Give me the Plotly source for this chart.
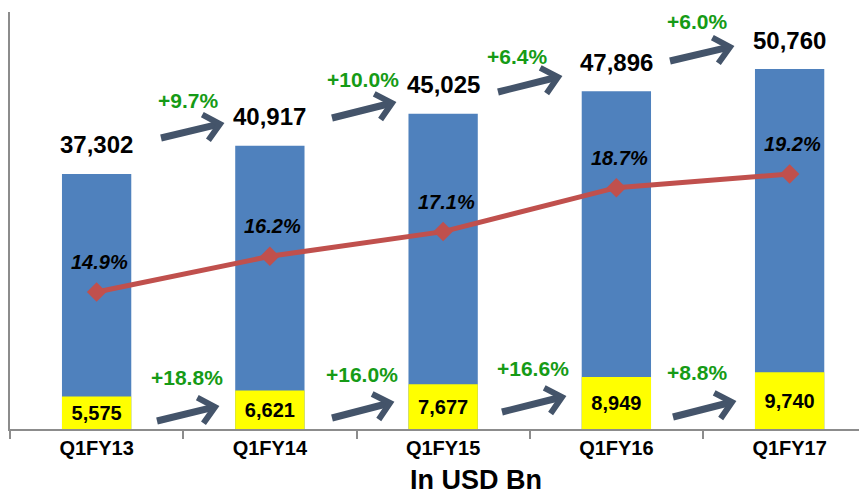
import math
import plotly.graph_objects as go

quarters = ["Q1FY13", "Q1FY14", "Q1FY15", "Q1FY16", "Q1FY17"]
total_values = [37302, 40917, 45025, 47896, 50760]
segment_values = [5575, 6621, 7677, 8949, 9740]
share_pct = [14.9, 16.2, 17.1, 18.7, 19.2]
total_growth = ["+9.7%", "+10.0%", "+6.4%", "+6.0%"]
segment_growth = ["+18.8%", "+16.0%", "+16.6%", "+8.8%"]

FONT = "Liberation Sans, Arial, sans-serif"
BLUE = "#4F81BD"
YELLOW = "#FFFF00"
RED = "#C0504D"
ARROW = "#44546A"
GREEN = "#169B16"
AXIS = "#8C8C8C"

W, H = 867, 496
# the page body adds an 8px offset, so margins are shifted by that amount
OFF = 8
PLOT_LEFT, PLOT_TOP, PLOT_BOTTOM = 10, 12, 429   # in window pixels
L, T = PLOT_LEFT - OFF, PLOT_TOP - OFF
B = H - (PLOT_BOTTOM - OFF)
R = 0
PW, PH = W - L - R, PLOT_BOTTOM - PLOT_TOP
CAT_W = 173.25


def to_paper(px, py):
    return (px - PLOT_LEFT) / PW, (PLOT_BOTTOM - py) / PH


# arrow geometry in window pixels: (tail, head) and label centre
top_arrows = [((161, 138), (220, 124)), ((332, 118), (392, 103)),
              ((498, 92), (558, 77)), ((670, 61), (730, 47))]
top_labels = [(188, 100), (363, 79), (517, 56), (697, 22)]
bot_arrows = [((157, 421), (215, 407)), ((332, 418), (390, 403)),
              ((502, 412), (562, 397)), ((673, 417), (732, 402))]
bot_labels = [(187, 377), (362, 374), (533, 368), (697, 372)]

fig = go.Figure()

fig.add_trace(go.Bar(
    x=quarters, y=total_values, width=0.4,
    marker=dict(color=BLUE, line=dict(width=0)),
    yaxis="y", hoverinfo="skip",
))
fig.add_trace(go.Bar(
    x=quarters, y=segment_values, width=0.4,
    marker=dict(color=YELLOW, line=dict(width=0)),
    text=[f"{v:,}" for v in segment_values],
    textposition="inside", insidetextanchor="middle", constraintext="none",
    textangle=0,
    textfont=dict(family=FONT, size=20, color="black", weight="bold"),
    yaxis="y2", hoverinfo="skip",
))
fig.add_trace(go.Scatter(
    x=quarters, y=share_pct, mode="lines+markers",
    line=dict(color=RED, width=5),
    marker=dict(symbol="diamond", size=15, color=RED),
    yaxis="y3", hoverinfo="skip",
))

annotations = []
for q, v in zip(quarters, total_values):
    annotations.append(dict(
        x=q, y=v, yref="y", xref="x", text=f"{v:,}", showarrow=False,
        yanchor="middle", yshift=29,
        font=dict(family=FONT, size=24, color="black", weight="bold"),
    ))
for q, p in zip(quarters, share_pct):
    annotations.append(dict(
        x=q, y=p, yref="y3", xref="x", text=f"<i>{p:.1f}%</i>", showarrow=False,
        yanchor="middle", yshift=30, xshift=3,
        font=dict(family=FONT, size=20, color="black", weight="bold"),
    ))
for txt, (px, py) in zip(total_growth + segment_growth, top_labels + bot_labels):
    xp, yp = to_paper(px, py)
    annotations.append(dict(
        x=xp, y=yp, xref="paper", yref="paper", text=txt, showarrow=False,
        xanchor="center", yanchor="middle",
        font=dict(family=FONT, size=21, color=GREEN, weight="bold"),
    ))
xp, yp = to_paper(476, 480)
annotations.append(dict(
    x=xp, y=yp, xref="paper", yref="paper", text="In USD Bn", showarrow=False,
    xanchor="center", yanchor="middle",
    font=dict(family=FONT, size=27, color="black", weight="bold"),
))

shapes = []
for (tx, ty), (hx, hy) in top_arrows + bot_arrows:
    d = math.atan2(hy - ty, hx - tx)
    arms = [to_paper(hx + 20 * math.cos(a), hy + 20 * math.sin(a))
            for a in (d + math.pi - 0.72, d + math.pi + 0.72)]
    t = to_paper(tx, ty)
    h = to_paper(hx - 2 * math.cos(d), hy - 2 * math.sin(d))
    tip = to_paper(hx, hy)
    shapes.append(dict(
        type="path", xref="paper", yref="paper",
        path=f"M {t[0]},{t[1]} L {h[0]},{h[1]}",
        line=dict(color=ARROW, width=7),
    ))
    shapes.append(dict(
        type="path", xref="paper", yref="paper",
        path=f"M {arms[0][0]},{arms[0][1]} L {tip[0]},{tip[1]} L {arms[1][0]},{arms[1][1]}",
        line=dict(color=ARROW, width=6),
    ))

fig.update_layout(
    width=W, height=H,
    margin=dict(l=L, r=R, t=T, b=B),
    paper_bgcolor="white", plot_bgcolor="white",
    barmode="overlay", showlegend=False,
    font=dict(family=FONT, color="black"),
    xaxis=dict(
        range=[-0.5, -0.5 + PW / CAT_W], showline=True, linecolor=AXIS, linewidth=2,
        ticks="outside", tickson="boundaries", ticklen=8, tickcolor=AXIS,
        tickwidth=2, showgrid=False,
        tickfont=dict(family=FONT, size=20, color="black", weight="bold"),
    ),
    # the source slide does not start the blue bars at zero; this range reproduces it
    yaxis=dict(range=[4600, 58070], showline=True, linecolor=AXIS, linewidth=2,
               showticklabels=False, showgrid=False, zeroline=False, ticks=""),
    yaxis2=dict(range=[0, 71700], overlaying="y", visible=False),
    yaxis3=dict(range=[9.91, 25.10], overlaying="y", visible=False),
    annotations=annotations,
    shapes=shapes,
)

fig.write_html("out.html")
